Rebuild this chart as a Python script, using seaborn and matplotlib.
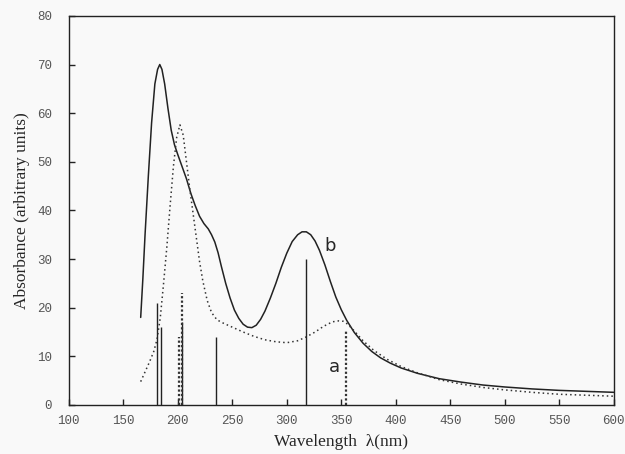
import numpy as np
import pandas as pd
import matplotlib
matplotlib.use("Agg")
import matplotlib.pyplot as plt
import seaborn as sns

# curve b (solid)
wl_b = [166, 168, 170, 173, 176, 179, 181.5, 183.5, 185.5, 188, 191, 194, 197, 200,
        204, 208, 212, 216, 220, 224, 228, 231, 234, 237, 240, 244, 248, 252, 256,
        260, 264, 268, 272, 276, 280, 285, 290, 295, 300, 305, 310, 314, 318, 322,
        326, 330, 335, 340, 345, 350, 355, 362, 370, 378, 386, 395, 405, 420, 440,
        460, 480, 500, 525, 550, 575, 600]
abs_b = [18, 26, 35, 47, 58, 66, 69, 70, 69, 66, 61, 56.5, 53.5, 51.5,
         49, 46.5, 43.5, 41, 38.8, 37.3, 36.2, 35, 33.5, 31.3, 28.5, 25, 22, 19.5, 17.8,
         16.6, 16, 15.9, 16.4, 17.6, 19.3, 22, 25, 28.3, 31.2, 33.6, 35, 35.6, 35.6, 35,
        33.7, 31.8, 28.8, 25.4, 22.2, 19.6, 17.4, 14.9, 12.7, 11, 9.7, 8.6, 7.6, 6.5, 5.4,
        4.7, 4.1, 3.7, 3.3, 3.0, 2.8, 2.6]

# curve a (dotted)
wl_a = [166, 170, 174, 178, 181, 184, 187, 190, 193, 196, 199, 202, 205, 208, 211,
        214, 217, 220, 223, 227, 231, 236, 242, 250, 260, 270, 280, 290, 300, 310,
        318, 326, 334, 342, 348, 352, 356, 362, 370, 380, 392, 405, 420, 440, 460,
        480, 500, 525, 550, 575, 600]
abs_a = [4.8, 6.8, 8.8, 11, 13.5, 18, 25, 32.5, 41, 49, 55, 57.6, 55.5, 50, 44.5,
         39.5, 34.5, 29.5, 25.5, 21.5, 19, 17.5, 16.8, 16, 15, 14.1, 13.4, 13, 12.8, 13.2,
         14, 15, 16.2, 17.1, 17.3, 17.2, 16.6, 15.2, 13.2, 11.2, 9.4, 7.9, 6.6, 5.2, 4.3,
         3.6, 3.1, 2.6, 2.2, 2.0, 1.8]

# calculated transitions
stick_b_wl = [181, 185, 204, 235, 318]
stick_b_h = [21, 16, 17, 14, 30]
stick_a_wl = [201, 204, 354]
stick_a_h = [14, 23, 15.5]

xticks = [100, 150, 200, 250, 300, 350, 400, 450, 500, 550, 600]
yticks = [0, 10, 20, 30, 40, 50, 60, 70, 80]

sns.set_theme(style="ticks")
plt.rcParams["axes.facecolor"] = "#f9f9f9"
plt.rcParams["figure.facecolor"] = "#f9f9f9"

fig = plt.figure(figsize=(6.25, 4.54), dpi=100)
ax = fig.add_axes([0.110, 0.108, 0.872, 0.857])

df_b = pd.DataFrame({"wl": wl_b, "abs": abs_b})
df_a = pd.DataFrame({"wl": wl_a, "abs": abs_a})
sns.lineplot(data=df_b, x="wl", y="abs", ax=ax, color="#222222", lw=1.1,
             sort=False, estimator=None)
sns.lineplot(data=df_a, x="wl", y="abs", ax=ax, color="#333333", lw=1.1,
             linestyle=(0, (1, 2)), sort=False, estimator=None)

ax.vlines(stick_b_wl, 0, stick_b_h, color="#222222", lw=1.0)
ax.vlines(stick_a_wl, 0, stick_a_h, color="#333333", lw=1.6, linestyles=(0, (1, 1)))

ax.text(340, 32.7, "b", fontsize=13, family="DejaVu Sans", ha="center", va="center")
ax.text(343.5, 7.8, "a", fontsize=13, family="DejaVu Sans", ha="center", va="center")

ax.set_xlim(100, 600)
ax.set_ylim(0, 80)
ax.set_xticks(xticks)
ax.set_yticks(yticks)
ax.tick_params(direction="in", length=4, width=1, labelsize=9, colors="#222222")
ax.tick_params(axis="x", pad=7)
ax.tick_params(axis="y", pad=12)
for lab in ax.get_xticklabels() + ax.get_yticklabels():
    lab.set_family("Liberation Mono")
    lab.set_color("#555555")
for s in ax.spines.values():
    s.set_color("#222222")
    s.set_linewidth(1.0)

ax.set_xlabel("Wavelength  \u03bb(nm)", family="Liberation Serif", fontsize=12.5,
              labelpad=5)
ax.set_ylabel("Absorbance (arbitrary units)", family="Liberation Serif", fontsize=12.5,
              labelpad=5)

plt.savefig("out.png", dpi=100)
